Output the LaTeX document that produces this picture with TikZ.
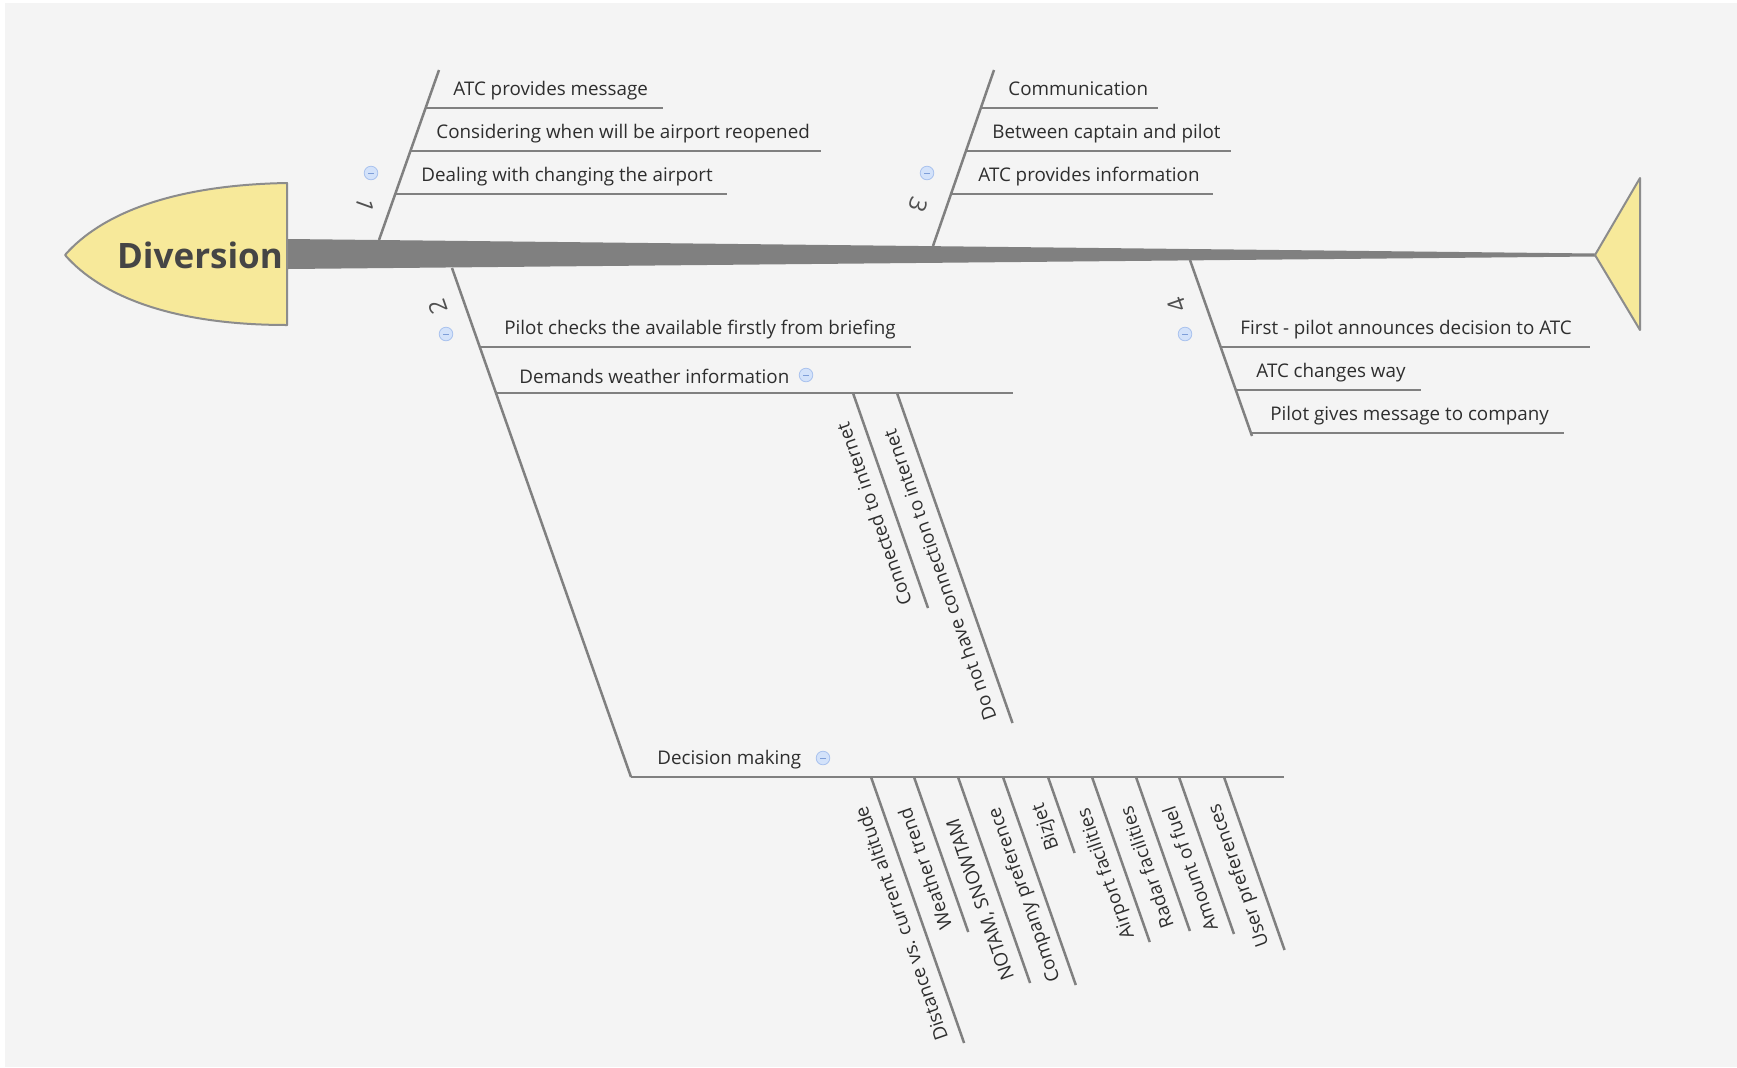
\documentclass[tikz,border=0pt]{standalone}
\usepackage{fontspec}
\setmainfont{Open Sans}
\usetikzlibrary{calc}

\definecolor{bg}{HTML}{F4F4F4}
\definecolor{bone}{HTML}{808080}
\definecolor{headfill}{HTML}{F7E99A}
\definecolor{headline}{HTML}{8C8C8C}
\definecolor{txt}{HTML}{2E2E2E}
\definecolor{numtxt}{HTML}{505050}
\definecolor{titletxt}{HTML}{454545}
\definecolor{btnfill}{HTML}{D3E2FA}
\definecolor{btnline}{HTML}{A9C2EE}
\definecolor{btnbar}{HTML}{7E9ED8}

\begin{document}
\begin{tikzpicture}[x=0.5pt, y=-0.5pt,
  bonepart/.style={draw=bone, line width=1.25pt},
  rib/.style={draw=bone, line width=1.25pt},
  lbl/.style={font=\fontsize{9.4}{11}\selectfont, text=txt, inner sep=0pt, anchor=base west},
  sublbl/.style={lbl, rotate=109.3},
  num/.style={font=\fontsize{12}{14}\selectfont, text=numtxt, inner sep=0pt},
  btn/.style={circle, draw=btnline, line width=0.4pt, fill=btnfill, minimum size=6.8pt, inner sep=0pt,
    path picture={\draw[btnbar, line width=0.5pt]
      ([xshift=-1.5pt]path picture bounding box.center) -- ([xshift=1.5pt]path picture bounding box.center);}},
  fishend/.style={draw=headline, fill=headfill, line width=1pt, line join=round},
]
\useasboundingbox (0,0) rectangle (1737,1067);
\fill[white] (0,0) rectangle (1737,1067);
\fill[bg] (5,3) rectangle (1737,1067);

% spine, tapering towards the tail
\fill[bone] (288,239) -- (1595,253.5) -- (1595,256.5) -- (288,269) -- cycle;

% head and tail
\draw[fishend] (287,183) .. controls (170,185) and (100,215) .. (65,255)
  .. controls (100,295) and (170,325) .. (287,325) -- cycle;
\node[font=\fontsize{17.5}{20}\selectfont\bfseries, text=titletxt, inner sep=0pt, anchor=base] (head) at (200,268) {Diversion};
\draw[fishend] (1595,255) -- (1640,178) -- (1640,330) -- cycle;

% ---- main bones ----
\coordinate (b1s) at (379,240); \coordinate (b1e) at (439,70);
\coordinate (b3s) at (933,246); \coordinate (b3e) at (994,70);
\coordinate (b2s) at (452,268); \coordinate (b2e) at (631,777);
\coordinate (b4s) at (1190,260); \coordinate (b4e) at (1252,436);
\draw[bonepart] (b1s) -- (b1e);
\draw[bonepart] (b3s) -- (b3e);
\draw[bonepart] (b2s) -- (b2e);
\draw[bonepart] (b4s) -- (b4e);

\node[num, rotate=-109.7] (n1) at (365,205) {1};
\node[num, rotate=-109.7] (n3) at (918,205) {3};
\node[num, rotate=109.3] (n2) at (438,307) {2};
\node[num, rotate=109.3] (n4) at (1177,305) {4};

\node[btn] (c1) at (371,173) {};
\node[btn] (c3) at (927,173) {};
\node[btn] (c2) at (446,334) {};
\node[btn] (c4) at (1185,334) {};

% ---- bone 1 ----
\coordinate (r1aL) at (425.5,108); \coordinate (r1aR) at (663,108);
\coordinate (r1bL) at (410.5,151); \coordinate (r1bR) at (821,151);
\coordinate (r1cL) at (395,194);   \coordinate (r1cR) at (727,194);
\draw[rib] (r1aL) -- (r1aR);
\draw[rib] (r1bL) -- (r1bR);
\draw[rib] (r1cL) -- (r1cR);
\node[lbl] (t1a) at (453,95) {ATC provides message};
\node[lbl] (t1b) at (436,138) {Considering when will be airport reopened};
\node[lbl] (t1c) at (421,181) {Dealing with changing the airport};

% ---- bone 3 ----
\coordinate (r3aL) at (981,108); \coordinate (r3aR) at (1158,108);
\coordinate (r3bL) at (966,151); \coordinate (r3bR) at (1231,151);
\coordinate (r3cL) at (951,194); \coordinate (r3cR) at (1213,194);
\draw[rib] (r3aL) -- (r3aR);
\draw[rib] (r3bL) -- (r3bR);
\draw[rib] (r3cL) -- (r3cR);
\node[lbl] (t3a) at (1008,95) {Communication};
\node[lbl] (t3b) at (992,138) {Between captain and pilot};
\node[lbl] (t3c) at (978,181) {ATC provides information};

% ---- bone 4 ----
\coordinate (r4aL) at (1221,347); \coordinate (r4aR) at (1590,347);
\coordinate (r4bL) at (1236,390); \coordinate (r4bR) at (1421,390);
\coordinate (r4cL) at (1251,433); \coordinate (r4cR) at (1564,433);
\draw[rib] (r4aL) -- (r4aR);
\draw[rib] (r4bL) -- (r4bR);
\draw[rib] (r4cL) -- (r4cR);
\node[lbl] (t4a) at (1240,334) {First - pilot announces decision to ATC};
\node[lbl] (t4b) at (1256,377) {ATC changes way};
\node[lbl] (t4c) at (1270,420) {Pilot gives message to company};

% ---- bone 2 ----
\coordinate (r2aL) at (480,347); \coordinate (r2aR) at (911,347);
\coordinate (r2bL) at (496,393); \coordinate (r2bR) at (1013,393);
\coordinate (r2cL) at (631,777); \coordinate (r2cR) at (1284,777);
\draw[rib] (r2aL) -- (r2aR);
\draw[rib] (r2bL) -- (r2bR);
\draw[rib] (r2cL) -- (r2cR);
\node[lbl] (t2a) at (504,334) {Pilot checks the available firstly from briefing};
\node[lbl] (t2b) at (519,383) {Demands weather information};
\node[lbl] (t2c) at (657,764) {Decision making};
\node[btn] (c2b) at (806,375) {};
\node[btn] (c2c) at (823,758) {};

% weather information sub-causes
\coordinate (w1s) at (853,393); \coordinate (w1e) at (928,608);
\coordinate (w2s) at (897,393); \coordinate (w2e) at (1012.5,723);
\draw[rib] (w1s) -- (w1e);
\draw[rib] (w2s) -- (w2e);
\node[sublbl] (tw1) at ($(w1e)+(-15.6,-5.1)$) {Connected to internet};
\node[sublbl] (tw2) at ($(w2e)+(-15.6,-5.1)$) {Do not have connection to internet};

% decision making sub-causes
\foreach \i/\sx/\len/\txt in {
  1/871/266/{Distance vs. current altitude},
  2/914/155/{Weather trend},
  3/958/206/{NOTAM, SNOWTAM},
  4/1003/208/{Company preference},
  5/1048/76/{Bizjet},
  6/1092/165/{Airport facilities},
  7/1136/154/{Radar facilities},
  8/1179/157/{Amount of fuel},
  9/1224/173/{User preferences}} {
  \coordinate (m\i s) at (\sx,777);
  \coordinate (m\i e) at ($(\sx,777)+(0.35*\len,\len)$);
  \draw[rib] (m\i s) -- (m\i e);
  \node[sublbl] (tm\i) at ($(m\i e)+(-15.6,-5.1)$) {\txt};
}
\end{tikzpicture}
\end{document}
